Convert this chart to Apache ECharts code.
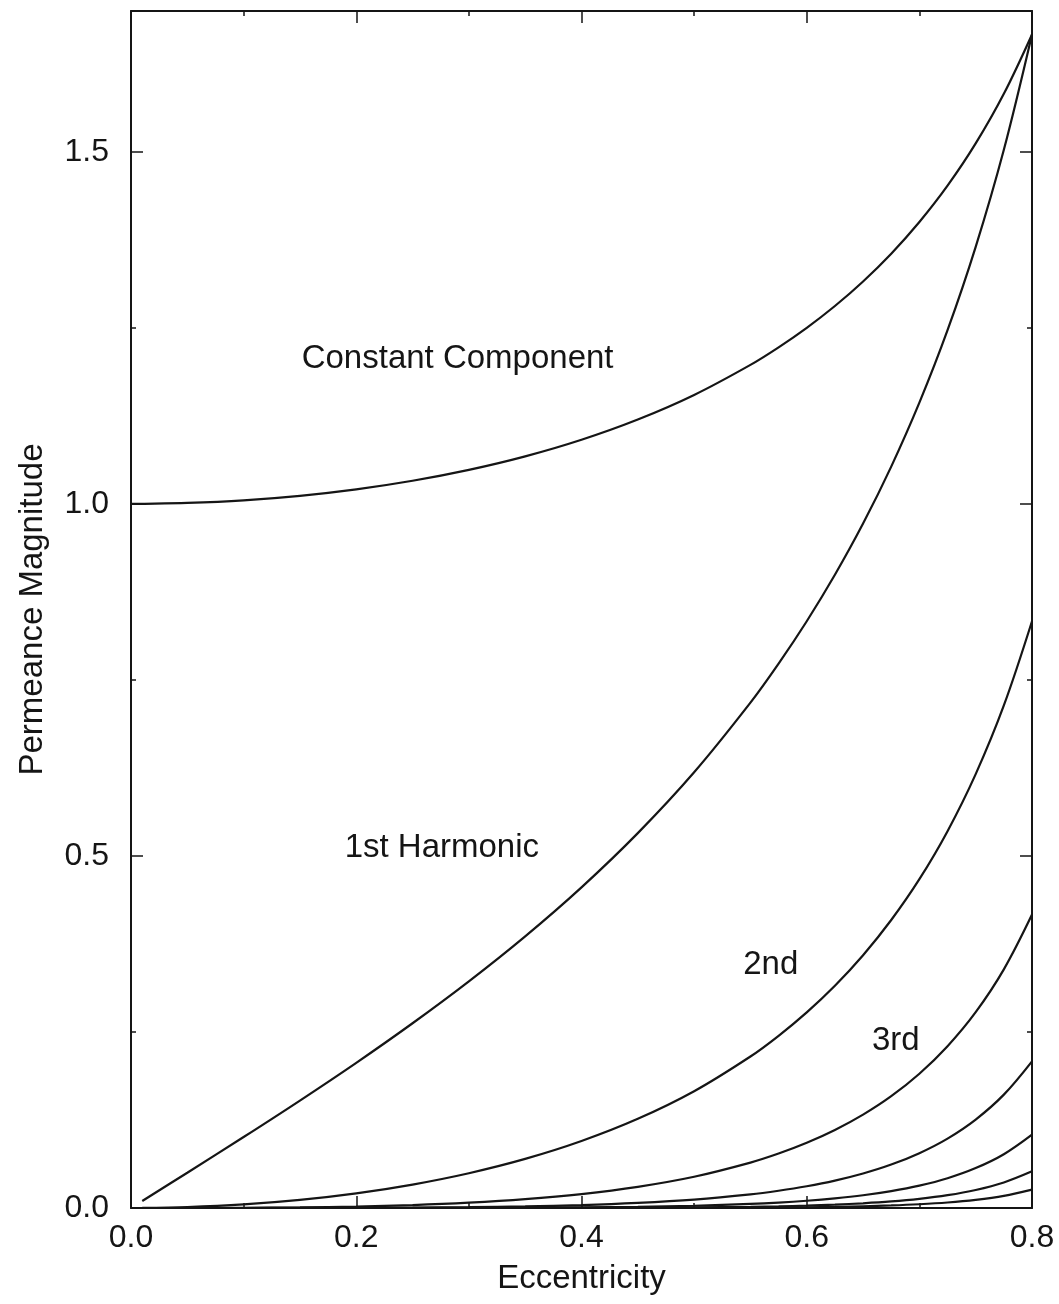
<!DOCTYPE html>
<html>
<head>
<meta charset="utf-8">
<title>Permeance Magnitude vs Eccentricity</title>
<script src="https://cdn.jsdelivr.net/npm/echarts@6/dist/echarts.min.js"></script>
<style>
  html, body { margin: 0; padding: 0; background: #fff; }
  #chart { width: 1059px; height: 1304px; }
</style>
</head>
<body>
<div id="chart"></div>
<script>
// Eccentricity sample points (x)
const eccentricity = [0, 0.01, 0.05, 0.1, 0.15, 0.2, 0.25, 0.3, 0.35, 0.4, 0.45, 0.5, 0.55, 0.575, 0.6, 0.625, 0.65, 0.675, 0.7, 0.725, 0.75, 0.775, 0.8];

// Permeance magnitudes; null where a curve is not drawn
const constantComponent = [1.0000, 1.0001, 1.0013, 1.0050, 1.0114, 1.0206, 1.0328, 1.0483, 1.0675, 1.0911, 1.1198, 1.1547, 1.1974, 1.2223, 1.2500, 1.2810, 1.3159, 1.3553, 1.4003, 1.4519, 1.5119, 1.5824, 1.6667];
const harmonic1 = [null, 0.0100, 0.0501, 0.1008, 0.1526, 0.2062, 0.2624, 0.3219, 0.3858, 0.4554, 0.5324, 0.6188, 0.7177, 0.7731, 0.8333, 0.8993, 0.9720, 1.0529, 1.1437, 1.2466, 1.3650, 1.5029, 1.6667];
const harmonic2 = [null, 0.0001, 0.0013, 0.0051, 0.0115, 0.0208, 0.0333, 0.0494, 0.0697, 0.0951, 0.1266, 0.1658, 0.2151, 0.2445, 0.2778, 0.3156, 0.3590, 0.4090, 0.4670, 0.5352, 0.6162, 0.7137, 0.8333];
const harmonic3 = [null, 0.0000, 0.0000, 0.0003, 0.0009, 0.0021, 0.0042, 0.0076, 0.0126, 0.0198, 0.0301, 0.0444, 0.0645, 0.0773, 0.0926, 0.1108, 0.1326, 0.1588, 0.1907, 0.2298, 0.2781, 0.3389, 0.4167];
const harmonic4 = [null, 0.0000, 0.0000, 0.0000, 0.0001, 0.0002, 0.0005, 0.0012, 0.0023, 0.0041, 0.0072, 0.0119, 0.0193, 0.0245, 0.0309, 0.0389, 0.0490, 0.0617, 0.0779, 0.0986, 0.1256, 0.1610, 0.2083];
const harmonic5 = [null, 0.0000, 0.0000, 0.0000, 0.0000, 0.0000, 0.0001, 0.0002, 0.0004, 0.0009, 0.0017, 0.0032, 0.0058, 0.0077, 0.0103, 0.0137, 0.0181, 0.0240, 0.0318, 0.0423, 0.0567, 0.0764, 0.1042];
const harmonic6 = [null, 0.0000, 0.0000, 0.0000, 0.0000, 0.0000, 0.0000, 0.0000, 0.0001, 0.0002, 0.0004, 0.0009, 0.0017, 0.0024, 0.0034, 0.0048, 0.0067, 0.0093, 0.0130, 0.0182, 0.0256, 0.0363, 0.0521];
const harmonic7 = [null, 0.0000, 0.0000, 0.0000, 0.0000, 0.0000, 0.0000, 0.0000, 0.0000, 0.0000, 0.0001, 0.0002, 0.0005, 0.0008, 0.0011, 0.0017, 0.0025, 0.0036, 0.0053, 0.0078, 0.0116, 0.0172, 0.0260];

// Curve annotations (text and anchor in data units)
const curveLabels = ['Constant Component', '1st Harmonic', '2nd', '3rd'];
const curveLabelX = [0.290, 0.276, 0.568, 0.679];
const curveLabelY = [1.206, 0.511, 0.345, 0.238];

const xTicks = { min: 0, max: 0.8, major: 0.2, minor: 0.1 };
const yTicks = { min: 0, max: 1.7, major: 0.5, minor: 0.25 };

const INK = '#151515';
const FONT = '"Liberation Sans", Arial, Helvetica, sans-serif';

function pairs(ys) {
  const out = [];
  ys.forEach((y, i) => { if (y !== null) out.push([eccentricity[i], y]); });
  return out;
}

function lineSeries(name, ys) {
  return {
    name: name,
    type: 'line',
    data: pairs(ys),
    smooth: 0.35,
    showSymbol: false,
    symbol: 'none',
    clip: true,
    lineStyle: { color: INK, width: 2.2 },
    silent: true,
    z: 3
  };
}

const fmt = v => Number(v).toFixed(1);

function xAxisDef(position, interval, tickLen, withLabels, withName) {
  return {
    type: 'value', position: position, min: xTicks.min, max: xTicks.max, interval: interval,
    splitLine: { show: false },
    axisLine: { show: withLabels, onZero: false, lineStyle: { color: INK, width: 2 } },
    axisTick: { show: true, inside: true, length: tickLen, lineStyle: { color: INK, width: 1.5 } },
    axisLabel: {
      show: withLabels && position === 'bottom', formatter: fmt, margin: 14,
      color: INK, fontSize: 32, fontFamily: FONT
    },
    name: withName ? 'Eccentricity' : '',
    nameLocation: 'middle', nameGap: 54,
    nameTextStyle: { color: INK, fontSize: 33, fontFamily: FONT }
  };
}

function yAxisDef(position, interval, tickLen, withLabels, withName) {
  return {
    type: 'value', position: position, min: yTicks.min, max: yTicks.max, interval: interval,
    splitLine: { show: false },
    axisLine: { show: withLabels, onZero: false, lineStyle: { color: INK, width: 2 } },
    axisTick: { show: true, inside: true, length: tickLen, lineStyle: { color: INK, width: 1.5 } },
    axisLabel: {
      show: withLabels && position === 'left', formatter: fmt, margin: 22,
      showMaxLabel: false,
      color: INK, fontSize: 32, fontFamily: FONT
    },
    name: withName ? 'Permeance Magnitude' : '',
    nameLocation: 'middle', nameGap: 82,
    nameTextStyle: { color: INK, fontSize: 33, fontFamily: FONT }
  };
}

const chart = echarts.init(document.getElementById('chart'), null, { renderer: 'canvas' });

chart.setOption({
  animation: false,
  backgroundColor: '#ffffff',
  grid: { left: 131, right: 27, top: 11, bottom: 96, containLabel: false },
  xAxis: [
    xAxisDef('bottom', xTicks.major, 12, true, true),
    xAxisDef('bottom', xTicks.minor, 5, false, false),
    xAxisDef('top', xTicks.major, 12, true, false),
    xAxisDef('top', xTicks.minor, 5, false, false)
  ],
  yAxis: [
    yAxisDef('left', yTicks.major, 12, true, true),
    yAxisDef('left', yTicks.minor, 5, false, false),
    yAxisDef('right', yTicks.major, 12, true, false),
    yAxisDef('right', yTicks.minor, 5, false, false)
  ],
  series: [
    lineSeries('Constant Component', constantComponent),
    lineSeries('1st Harmonic', harmonic1),
    lineSeries('2nd Harmonic', harmonic2),
    lineSeries('3rd Harmonic', harmonic3),
    lineSeries('4th Harmonic', harmonic4),
    lineSeries('5th Harmonic', harmonic5),
    lineSeries('6th Harmonic', harmonic6),
    lineSeries('7th Harmonic', harmonic7),
    {
      name: 'labels',
      type: 'scatter',
      silent: true,
      symbolSize: 0,
      itemStyle: { color: INK, opacity: 1 },
      data: curveLabels.map((t, i) => ({ value: [curveLabelX[i], curveLabelY[i]], name: t })),
      label: {
        show: true, position: 'inside', formatter: p => p.name,
        color: INK, opacity: 1, textBorderWidth: 0,
        fontSize: 33, fontFamily: FONT
      },
      z: 5
    }
  ]
});
</script>
</body>
</html>
